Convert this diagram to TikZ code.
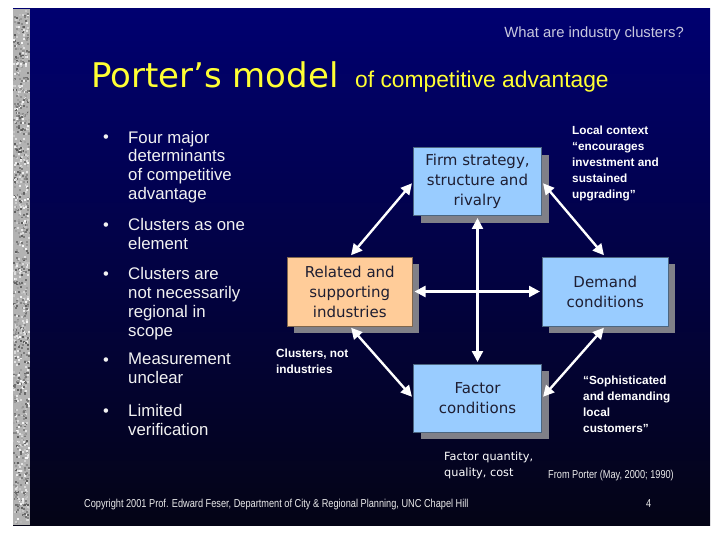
\documentclass[tikz,border=0pt]{standalone}
\usepackage{fontspec}
\setmainfont{Liberation Sans}
\newfontfamily\verdfont{DejaVu Sans}
\newfontfamily\narrowfont[FakeStretch=0.8]{Liberation Sans}
\usetikzlibrary{positioning,arrows.meta,shadows}

\definecolor{slidetop}{RGB}{0,0,112}
\definecolor{slidebot}{RGB}{4,4,22}
\definecolor{boxblue}{RGB}{153,204,255}
\definecolor{boxorange}{RGB}{255,204,153}
\definecolor{boxtext}{RGB}{30,30,50}
\definecolor{titleyellow}{RGB}{255,255,51}
\definecolor{headgray}{RGB}{200,200,222}
\definecolor{shadowgray}{RGB}{128,128,136}

\begin{document}
\begin{tikzpicture}[
        x=1pt, y=-1pt,
        detbox/.style={rectangle, draw=boxblue!50!black, line width=0.5pt, fill=boxblue,
            minimum width=128pt, minimum height=68pt, inner sep=2pt, align=center, text=boxtext,
            font=\verdfont\fontsize{15}{20}\selectfont,
            drop shadow={shadow xshift=7pt, shadow yshift=-7pt, fill=shadowgray, opacity=1}},
        relbox/.style={detbox, fill=boxorange, draw=boxorange!50!black, minimum width=125pt, minimum height=69pt},
        link/.style={{Triangle[length=11pt,width=11pt]}-{Triangle[length=11pt,width=11pt]}, draw=white, line width=2.4pt, shorten <=2pt, shorten >=2pt},
        item/.style={anchor=north west, inner sep=0pt, align=left, text=white!95!black, font=\fontsize{16.8}{18.8}\selectfont},
        dot/.style={anchor=base, inner sep=0pt, text=white!95!black, font=\fontsize{16.5}{18.8}\selectfont},
        note/.style={anchor=north west, inner sep=0pt, align=left, text=white, font=\bfseries\fontsize{11.8}{16}\selectfont},
        fnote/.style={anchor=north west, inner sep=0pt, align=left, text=white, font=\verdfont\fontsize{11.3}{16}\selectfont},
        small/.style={anchor=base west, inner sep=0pt, text=white!92!black, font=\narrowfont\fontsize{11.5}{13}\selectfont},
    ]
    \fill[white] (0,0) rectangle (720,540);
    \useasboundingbox (0,0) rectangle (720,540);

    % === Slide background ===
    \shade[top color=slidetop, bottom color=slidebot] (13,9) rectangle (710,525);
    \fill[black!30] (13,9) rectangle (30,525);
    \pgfmathsetseed{12}
    \foreach \i in {1,...,1100}{
        \pgfmathsetmacro{\nx}{13+15*rnd}
        \pgfmathsetmacro{\ny}{9+514*rnd}
        \pgfmathtruncatemacro{\ns}{3+62*rnd}
        \fill[black!\ns] (\nx,\ny) rectangle ++(2,2);
    }

    % === Heading ===
    \node[anchor=base east, inner sep=0pt, text=headgray, font=\fontsize{14.8}{16}\selectfont] (head) at (684,38) {What are industry clusters?};
    \node[anchor=base west, inner sep=0pt, text=titleyellow, font=\verdfont\fontsize{34}{40}\selectfont] (ttl) at (91,88) {Porter’s model};
    \node[anchor=base west, inner sep=0pt, text=titleyellow, font=\fontsize{22.8}{28}\selectfont] (subttl) at (355,88) {of competitive advantage};

    % === Bullets ===
    \foreach \y [count=\k] in {142.7,230,279.5,365,416}
        \node[dot] (dot\k) at (106,\y) {\textbullet};
    \node[item] (item1) at (128,130.7) {Four major\\determinants\\of competitive\\advantage};
    \node[item] (item2) at (128,218) {Clusters as one\\element};
    \node[item] (item3) at (128,267.5) {Clusters are\\not necessarily\\regional in\\scope};
    \node[item] (item4) at (128,353) {Measurement\\unclear};
    \node[item] (item5) at (128,404) {Limited\\verification};

    % === Diamond ===
    \coordinate (hub) at (477.5,291.5);
    \node[detbox, above=75.5pt of hub] (firm) {Firm strategy,\\structure and\\rivalry};
    \node[relbox, left=65pt of hub] (related) {Related and\\supporting\\industries};
    \node[detbox, right=64.5pt of hub, minimum width=126pt, minimum height=69pt] (demand) {Demand\\conditions};
    \node[detbox, below=72.5pt of hub] (factor) {Factor\\conditions};

    \draw[link] (firm) -- (factor);
    \draw[link] (related) -- (demand);
    \draw[link] (related.north) -- (firm.west);
    \draw[link] (firm.east) -- (demand.north);
    \draw[link] (related.south) -- (factor.west);
    \draw[link] (factor.east) -- (demand.south);

    % === Notes ===
    \node[note] (ctxnote) at (572,125.4) {Local context\\“encourages\\investment and\\sustained\\upgrading”};
    \node[note] (clnote) at (276,348.4) {Clusters, not\\industries};
    \node[note] (custnote) at (583,375.4) {“Sophisticated\\and demanding\\local\\customers”};
    \node[fnote] (fqnote) at (444,451.4) {Factor quantity,\\quality, cost};
    \node[small] (src) at (548,478) {From Porter (May, 2000; 1990)};

    % === Footer ===
    \node[small] (copy) at (84,507) {Copyright 2001 Prof. Edward Feser, Department of City \& Regional Planning, UNC Chapel Hill};
    \node[small] (pgno) at (646,507) {4};
\end{tikzpicture}
\end{document}
